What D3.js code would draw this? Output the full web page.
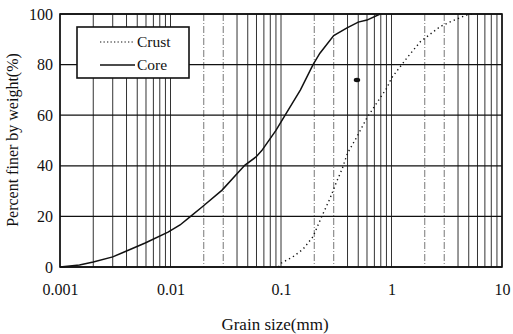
<!DOCTYPE html>
<html>
<head>
<meta charset="utf-8">
<script src="https://cdn.jsdelivr.net/npm/d3@7"></script>
<style>
  body { margin: 0; background: #fff; }
  text { font-family: 'Liberation Serif', 'DejaVu Serif', serif; fill: #111; }
</style>
</head>
<body>
<svg id="chart" width="513" height="334"></svg>
<script>
// grain size distribution
const coreSize = [0.001, 0.0015, 0.002, 0.003, 0.004, 0.0059, 0.0095, 0.0122, 0.015, 0.0193, 0.0293, 0.0472, 0.0594, 0.067, 0.09, 0.109, 0.15, 0.195, 0.225, 0.3, 0.396, 0.5, 0.6, 0.79]
const corePct = [0, 0.8, 2, 4, 6.3, 9.5, 13.8, 16.6, 19.8, 23.7, 30.4, 40.3, 43.5, 46, 54, 60, 70, 80, 84.5, 91.5, 94.5, 96.8, 97.6, 100]
const crustSize = [0.095, 0.101, 0.128, 0.158, 0.195, 0.234, 0.277, 0.318, 0.357, 0.4, 0.48, 0.6, 0.74, 0.91, 1.0, 1.27, 1.4, 1.82, 2.75, 3.7, 4.8, 5.5]
const crustPct = [0, 1.6, 4, 7, 12, 20, 27, 33.6, 38.7, 45, 51, 59, 65, 70.8, 74.7, 80.6, 83, 89, 95, 97.6, 99.6, 100]
const blob = [{ size: 0.487, pct: 73.9 }]
const xTicks = [0.001, 0.01, 0.1, 1, 10]
const xTickLabels = ['0.001', '0.01', '0.1', '1', '10']
const yTicks = [0, 20, 40, 60, 80, 100]
const seriesNames = ['Crust', 'Core']

const svg = d3.select('#chart')
const margin = { left: 60, right: 11, top: 14, bottom: 67 }
const width = +svg.attr('width')
const height = +svg.attr('height')
const innerWidth = width - margin.left - margin.right
const innerHeight = height - margin.top - margin.bottom

const x = d3.scaleLog().domain([0.001, 10]).range([0, innerWidth])
const y = d3.scaleLinear().domain([0, 100]).range([innerHeight, 0])

const g = svg.append('g')
  .attr('transform', `translate(${margin.left},${margin.top})`)

// minor grid, 2 and 3 of the upper decades are dash-dot in the original
let minor = []
for (let e = -3; e <= 0; e++) {
  for (let k = 1; k <= 9; k++) minor.push({ v: k * Math.pow(10, e), k: k, e: e })
}
minor.push({ v: 10, k: 1, e: 1 })
const isDashed = d => d.e > -3 && (d.k === 2 || d.k === 3)
g.selectAll('.vgrid').data(minor).enter().append('line')
  .attr('class', 'vgrid')
  .attr('x1', d => x(d.v)).attr('x2', d => x(d.v))
  .attr('y1', 0).attr('y2', innerHeight)
  .attr('stroke', d => isDashed(d) ? '#777' : '#333')
  .attr('stroke-width', 1)
  .attr('stroke-dasharray', d => isDashed(d) ? '7,2,1,2' : null)

g.selectAll('.hgrid').data(yTicks).enter().append('line')
  .attr('class', 'hgrid')
  .attr('x1', 0).attr('x2', innerWidth)
  .attr('y1', d => y(d)).attr('y2', d => y(d))
  .attr('stroke', '#111')
  .attr('stroke-width', 1.3)

g.append('rect')
  .attr('width', innerWidth).attr('height', innerHeight)
  .attr('fill', 'none').attr('stroke', '#111').attr('stroke-width', 1.6)

const line = d3.line().x(d => x(d[0])).y(d => y(d[1]))

g.append('path')
  .datum(crustSize.map((s, i) => [s, crustPct[i]]))
  .attr('d', line)
  .attr('fill', 'none')
  .attr('stroke', '#111')
  .attr('stroke-width', 1.4)
  .attr('stroke-dasharray', '1.3,3.2')

g.append('path')
  .datum(coreSize.map((s, i) => [s, corePct[i]]))
  .attr('d', line)
  .attr('fill', 'none')
  .attr('stroke', '#111')
  .attr('stroke-width', 1.5)

g.selectAll('.blob').data(blob).enter().append('ellipse')
  .attr('cx', d => x(d.size)).attr('cy', d => y(d.pct))
  .attr('rx', 3.2).attr('ry', 2.2)
  .attr('fill', '#111')

// axes, only labels are kept
const xAxis = d3.axisBottom(x).tickValues(xTicks).tickSize(0).tickPadding(17)
  .tickFormat((d, i) => xTickLabels[i])
g.append('g')
  .attr('transform', `translate(0,${innerHeight})`)
  .call(xAxis)
const yAxis = d3.axisLeft(y).tickValues(yTicks).tickSize(0).tickPadding(7)
g.append('g').call(yAxis)
svg.selectAll('.domain').remove()
svg.selectAll('.tick text')
  .style('font-family', "'Liberation Serif', serif")
  .style('font-size', '16px')
  .attr('fill', '#111')

svg.append('text')
  .attr('x', 275)
  .attr('y', 330)
  .style('text-anchor', 'middle')
  .style('font-size', '17px')
  .text('Grain size(mm)')

svg.append('text')
  .attr('transform', 'translate(18,140) rotate(-90)')
  .style('text-anchor', 'middle')
  .style('font-size', '16px')
  .text('Percent finer by weight(%)')

// legend
const legend = g.append('g').attr('transform', 'translate(17,13)')
legend.append('rect')
  .attr('width', 112).attr('height', 51)
  .attr('fill', '#fff').attr('stroke', '#111').attr('stroke-width', 1.6)
const items = legend.selectAll('.item').data(seriesNames).enter().append('g')
  .attr('class', 'item')
  .attr('transform', (d, i) => `translate(0,${15 + i * 23})`)
items.append('line')
  .attr('x1', 23).attr('x2', 58)
  .attr('stroke', '#111')
  .attr('stroke-width', (d, i) => i === 0 ? 1.2 : 1.5)
  .attr('stroke-dasharray', (d, i) => i === 0 ? '1.3,2.2' : null)
items.append('text')
  .attr('x', 60).attr('dy', '0.35em')
  .style('font-size', '15.5px')
  .text(d => d)
</script>
</body>
</html>
